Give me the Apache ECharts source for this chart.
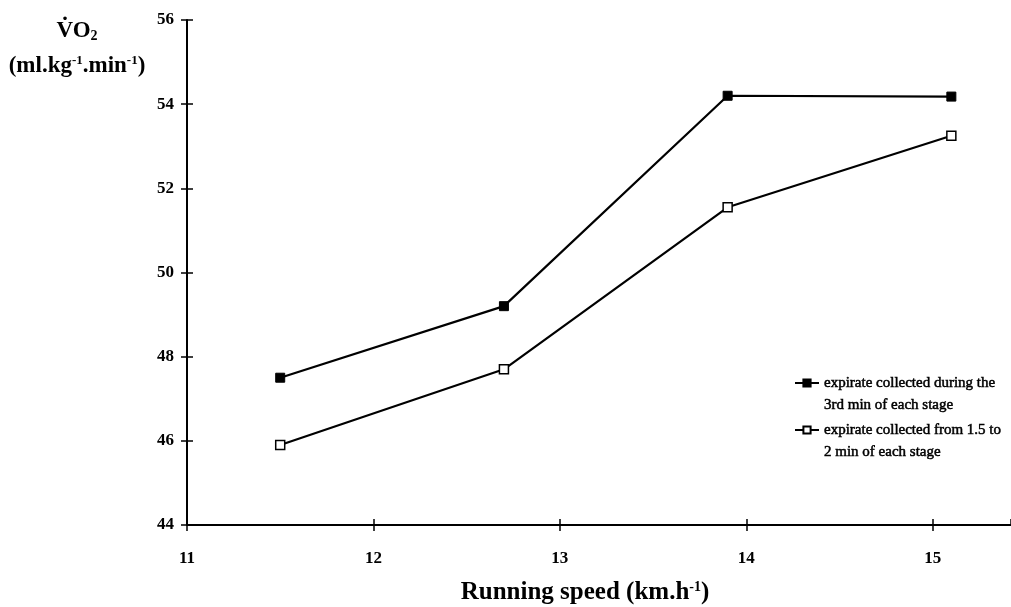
<!DOCTYPE html>
<html>
<head>
<meta charset="utf-8">
<script src="https://cdn.jsdelivr.net/npm/echarts@6/dist/echarts.min.js"></script>
<style>
html,body{margin:0;padding:0;background:#fff;}
#chart{width:1011px;height:607px;}
</style>
</head>
<body>
<div id="chart"></div>
<script>
// Running speed (km/h) at each stage
const speeds = [11.5, 12.7, 13.9, 15.1];
// VO2 (ml/kg/min), expirate collected during the 3rd minute of each stage
const vo2ThirdMin = [47.5, 49.2, 54.2, 54.18];
// VO2 (ml/kg/min), expirate collected from 1.5 to 2 min of each stage
const vo2Early = [45.9, 47.7, 51.55, 53.25];
const xTicks = [11, 12, 13, 14, 15];
const yTicks = [44, 46, 48, 50, 52, 54, 56];

const FONT = '"Liberation Serif", "Times New Roman", serif';
const seriesNames = ['expirate collected during the\n3rd min of each stage',
                     'expirate collected from 1.5 to\n2 min of each stage'];

const chart = echarts.init(document.getElementById('chart'), null, {renderer: 'canvas'});

const pairs = arr => speeds.map((s, i) => [s, arr[i]]);

const baseX = {
  type: 'value', min: xTicks[0], max: 15.42, interval: 1, position: 'bottom',
  axisLine: {show: true, onZero: false, lineStyle: {color: '#000', width: 2}},
  splitLine: {show: false}
};
const baseY = {
  type: 'value', min: yTicks[0], max: yTicks[yTicks.length - 1], interval: 2, position: 'left',
  axisLine: {show: true, onZero: false, lineStyle: {color: '#000', width: 2}},
  splitLine: {show: false}
};
const tickStyle = {color: '#000', width: 1.5};

chart.setOption({
  backgroundColor: '#fff',
  animation: false,
  grid: {left: 187, right: 0, top: 20, bottom: 82, containLabel: false, outerBoundsMode: 'none'},
  xAxis: [
    Object.assign({}, baseX, {
      axisTick: {show: true, length: 6, lineStyle: tickStyle},
      axisLabel: {show: true, margin: 25, color: '#000', fontFamily: FONT, fontSize: 17, fontWeight: 'bold',
                  showMaxLabel: false, formatter: v => (xTicks.indexOf(v) >= 0 ? String(v) : '')},
      name: '{t|Running speed (km.h}{s|-1}{t|)}',
      nameLocation: 'middle', nameGap: 55,
      nameTextStyle: {padding: [0, 28, 0, 0], rich: {
        t: {fontFamily: FONT, fontSize: 25, fontWeight: 'bold', color: '#000'},
        s: {fontFamily: FONT, fontSize: 14, fontWeight: 'bold', color: '#000', padding: [0, 0, 12, 0]}
      }}
    }),
    Object.assign({}, baseX, {
      axisLine: {show: false},
      axisTick: {show: true, inside: true, length: 6, lineStyle: tickStyle},
      axisLabel: {show: false}
    })
  ],
  yAxis: [
    Object.assign({}, baseY, {
      axisTick: {show: true, length: 6, lineStyle: tickStyle},
      axisLabel: {show: true, margin: 13, color: '#000', fontFamily: FONT, fontSize: 17, fontWeight: 'bold'}
    }),
    Object.assign({}, baseY, {
      axisLine: {show: false},
      axisTick: {show: true, inside: true, length: 6, lineStyle: tickStyle},
      axisLabel: {show: false}
    })
  ],
  legend: {
    data: seriesNames,
    orient: 'vertical',
    left: 794, top: 350, padding: 0,
    itemWidth: 24, itemHeight: 9, itemGap: -19,
    // a leading blank line keeps the marker level with the first text line
    formatter: name => '\n' + name,
    textStyle: {fontFamily: FONT, fontSize: 15, fontWeight: 'normal', color: '#000',
                textBorderColor: '#000', textBorderWidth: 0.5, lineHeight: 22}
  },
  graphic: [
    {
      type: 'text', x: 77, y: 14,
      style: {
        text: '{a|VO}{b|2}\n{a|(ml.kg}{c|-1}{a|.min}{c|-1}{a|)}',
        align: 'center',
        rich: {
          a: {fontFamily: FONT, fontSize: 23, fontWeight: 'bold', fill: '#000', lineHeight: 35},
          b: {fontFamily: FONT, fontSize: 14, fontWeight: 'bold', fill: '#000', padding: [9, 0, 0, 0]},
          c: {fontFamily: FONT, fontSize: 13, fontWeight: 'bold', fill: '#000', padding: [0, 0, 12, 0]}
        }
      }
    },
    {
      // dot above the V of VO2 (rate notation)
      type: 'text', x: 65, y: 15,
      style: {text: '˙', align: 'center', fontFamily: FONT, fontSize: 24, fontWeight: 'bold', fill: '#000'}
    }
  ],
  series: [
    {
      name: seriesNames[0], type: 'line', data: pairs(vo2ThirdMin),
      symbol: 'rect', symbolSize: 9,
      lineStyle: {color: '#000', width: 2.2},
      itemStyle: {color: '#000', borderColor: '#000', borderWidth: 1}
    },
    {
      name: seriesNames[1], type: 'line', data: pairs(vo2Early),
      symbol: 'rect', symbolSize: 9,
      lineStyle: {color: '#000', width: 2.2},
      itemStyle: {color: '#fff', borderColor: '#000', borderWidth: 1.5}
    }
  ]
});
</script>
</body>
</html>
